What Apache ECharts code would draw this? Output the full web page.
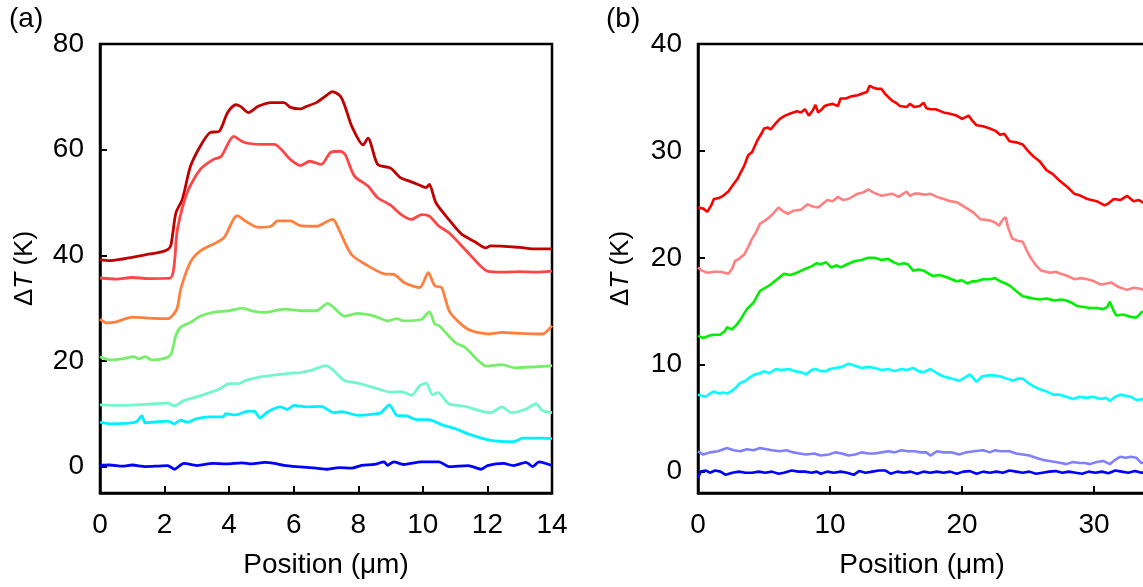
<!DOCTYPE html>
<html>
<head>
<meta charset="utf-8">
<script src="https://cdn.jsdelivr.net/npm/echarts@6/dist/echarts.min.js"></script>
<style>
html,body{margin:0;padding:0;background:#fff;}
#chart{width:1143px;height:587px;}
</style>
</head>
<body>
<div id="chart"></div>
<script>
// ---------- Data ----------
var xTicksA = [0, 2, 4, 6, 8, 10, 12, 14];
var yTicksA = [0, 20, 40, 60, 80];
var xTicksB = [0, 10, 20, 30];
var yTicksB = [0, 10, 20, 30, 40];

var colorsA = ['#C00000', '#FF4545', '#FF7F3F', '#76EE6A', '#72F7C8', '#00F0FF', '#0000FF'];
var colorsB = ['#FF0000', '#FF8080', '#00EE00', '#00FFFF', '#8080FF', '#0000FF'];

var a1 = [[0,39.2],[0.3,39],[0.7,39.3],[1.0,39.6],[1.4,40.1],[1.8,40.5],[2.1,41.1],[2.2,42],[2.35,48],[2.55,50.6],[2.8,56.8],[3.1,60.6],[3.4,63.2],[3.7,63.5],[3.95,67],[4.2,68.5],[4.35,68.2],[4.6,67],[4.9,68.2],[5.3,68.9],[5.7,68.9],[5.9,68],[6.2,67.7],[6.4,68.2],[6.7,68.9],[7.0,70.2],[7.2,71],[7.45,70.1],[7.6,68],[7.8,64.4],[8.15,60.9],[8.3,62.2],[8.6,57.2],[9.0,56.5],[9.3,54.7],[9.6,54],[9.85,53.4],[10.1,52.8],[10.2,53.4],[10.4,50],[10.8,46.8],[11.2,44],[11.6,42.6],[11.95,41.4],[12.1,41.8],[13,41.5],[13.5,41.2],[14,41.2]];
var a2 = [[0,35.7],[0.5,35.5],[1,35.8],[1.5,35.6],[2.18,35.7],[2.4,45],[2.7,51.9],[3.1,56.2],[3.5,58.1],[3.75,58.7],[4.14,62.5],[4.45,61.4],[5.0,61],[5.4,61],[5.9,58.1],[6.2,57],[6.5,57.8],[6.85,57.2],[7.15,59.5],[7.45,59.7],[7.6,59],[7.88,55],[8.3,53.1],[8.6,50.9],[9.0,49.5],[9.33,47.7],[9.65,46.8],[9.96,47.7],[10.2,47.4],[10.5,45.5],[10.8,44.3],[11.4,40.5],[12.0,37],[12.5,36.8],[13,36.9],[13.5,36.8],[14,37]];
var a3 = [[0,27.9],[0.2,27.2],[0.5,27.4],[1.0,28.3],[1.5,28.1],[2.1,28],[2.38,29.8],[2.5,33.6],[2.8,38.7],[3.1,40.8],[3.6,42.4],[3.85,43.4],[4.25,47.5],[4.5,46.5],[4.9,45.3],[5.3,45.5],[5.5,46.5],[5.9,46.5],[6.2,45.6],[6.7,45.5],[7.2,46.8],[7.3,46.2],[7.78,40.2],[8.3,38],[8.8,36.5],[9.1,36.4],[9.43,34.8],[9.9,33.9],[10.17,36.7],[10.37,34.2],[10.58,33.9],[10.84,29.2],[11.4,26],[12.07,25.1],[12.45,25.4],[13.0,25.2],[13.7,25.1],[14,26.7]];
var a4 = [[0,20.8],[0.31,20.2],[0.7,20.4],[1.04,20.8],[1.2,20.4],[1.4,20.8],[1.6,20.2],[2.0,20.5],[2.2,21.3],[2.35,24.8],[2.5,26.4],[2.8,27.3],[3.11,28.5],[3.5,29.2],[4.0,29.5],[4.4,30],[4.7,29.5],[5.08,29.2],[5.7,29.8],[6.22,29.5],[6.7,29.5],[7.05,30.9],[7.57,28.5],[8.0,29],[8.5,28.5],[8.9,27.6],[9.2,28],[9.4,27.6],[9.96,27.9],[10.2,29.3],[10.37,27],[10.5,26.7],[11.0,23.5],[11.3,22.6],[11.98,19],[12.45,19.3],[12.85,18.7],[13.5,18.9],[14,19.1]];
var a5 = [[0,11.7],[0.7,11.6],[1.7,11.9],[2.1,12],[2.3,11.5],[2.6,12.5],[3.0,13.2],[3.3,13.8],[3.7,14.7],[4.0,15.7],[4.3,15.7],[4.5,16.3],[4.9,16.9],[5.5,17.4],[5.9,17.7],[6.22,17.8],[6.53,18.2],[7.0,19.1],[7.57,16.3],[8.0,15.8],[8.6,14.7],[9.0,14.1],[9.33,14.2],[9.65,13.5],[9.9,15.3],[10.1,15.8],[10.3,13.6],[10.47,14],[10.8,11.9],[11.3,11.4],[12.1,10.2],[12.45,11.3],[12.75,10.2],[13.2,10.9],[13.5,11.9],[13.7,10.6],[14,10.2]];
var a6 = [[0,8.4],[0.31,8.1],[1.1,8.4],[1.3,9.6],[1.4,8.3],[2.1,8.6],[2.3,8.1],[2.5,8.8],[2.7,8.4],[3.0,9.1],[3.4,9.4],[3.8,9.4],[3.9,10],[4.2,9.8],[4.6,10.5],[4.8,10.4],[4.95,9.2],[5.2,10.4],[5.6,11.3],[5.8,10.8],[6.0,11.6],[6.4,11.3],[6.84,11.4],[7.26,10.2],[7.47,10.4],[8.0,9.7],[8.4,9.9],[8.7,10.2],[8.96,11.7],[9.2,9.7],[9.5,9.6],[9.8,8.9],[10.17,8.9],[10.6,7.9],[11.0,7.2],[11.4,6.2],[12.07,5.0],[12.8,4.7],[13.1,5.4],[13.7,5.4],[14,5.3]];
var a7 = [[0,0.25],[0.3,0.3],[0.7,0.1],[1.0,0.3],[1.4,0],[1.8,0.1],[2.1,0.2],[2.3,-0.5],[2.6,0.6],[3.0,0.2],[3.5,0.6],[3.9,0.5],[4.4,0.7],[4.7,0.5],[5.1,0.8],[5.4,0.6],[5.7,0.25],[6.1,0],[6.7,-0.3],[7.05,-0.5],[7.4,-0.2],[7.8,-0.3],[8.1,0.25],[8.5,0.4],[8.8,0.9],[8.9,0.25],[9.1,0.9],[9.4,0.4],[9.96,0.9],[10.5,0.9],[10.8,0],[11.4,0.2],[11.8,-0.5],[12.0,0.2],[12.5,0.6],[12.8,0.2],[13.2,0.8],[13.4,0],[13.6,0.9],[14,0.2]];

var b1 = [[0,24.7],[0.4,24.6],[0.7,24.3],[1.0,24.9],[1.2,25.5],[1.6,25.6],[1.9,25.8],[2.3,26.2],[2.7,26.9],[3.0,27.4],[3.2,27.9],[3.5,28.6],[3.8,29.6],[4.1,29.9],[4.5,31],[4.8,31.6],[5.0,32.1],[5.3,32.2],[5.5,32.0],[5.9,32.6],[6.2,33],[6.6,33.3],[7.0,33.5],[7.5,33.7],[7.8,33.6],[8.1,33.9],[8.4,33.3],[8.7,33.8],[8.9,34.3],[9.1,33.6],[9.3,33.8],[9.6,34.2],[9.8,34.3],[10.2,34.4],[10.6,34.2],[10.8,34.9],[11.2,34.9],[11.6,35.1],[12.1,35.2],[12.5,35.4],[12.8,35.5],[13.0,36.1],[13.3,35.9],[13.6,35.8],[13.9,35.8],[14.2,35.3],[14.7,34.7],[15.0,34.5],[15.3,34.2],[15.8,34.1],[16.05,34.4],[16.4,34.1],[16.8,34.2],[17.1,34.5],[17.3,34.0],[17.6,33.9],[18.0,33.9],[18.6,33.6],[19.0,33.5],[19.3,33.4],[19.6,33.3],[20.0,33.0],[20.5,33.3],[20.8,32.8],[21.1,32.4],[21.6,32.3],[22.1,32.1],[22.5,31.9],[22.9,31.5],[23.2,31.6],[23.6,30.9],[24.1,30.8],[24.6,30.6],[25.0,30.0],[25.4,29.5],[25.9,29.0],[26.4,28.2],[26.9,27.8],[27.4,27.2],[28.0,26.6],[28.5,26.0],[29.0,25.8],[29.5,25.5],[30.2,25.3],[30.8,24.9],[31.1,25.1],[31.5,25.5],[32.0,25.4],[32.5,25.8],[33.0,25.3],[33.4,25.4],[33.8,25.1]];
var b2 = [[0,19.1],[0.3,18.8],[0.7,18.6],[1.2,18.7],[1.7,18.7],[2.0,18.6],[2.3,18.5],[2.6,19.0],[2.8,19.7],[3.1,19.9],[3.5,20.3],[3.8,21.0],[4.1,21.8],[4.4,22.4],[4.7,23.2],[5.1,23.5],[5.5,23.9],[5.8,24.3],[6.1,24.7],[6.4,24.4],[6.8,24.1],[7.2,24.4],[7.8,24.5],[8.3,25.0],[8.7,24.8],[9.1,24.7],[9.5,25.1],[9.8,25.4],[10.2,25.3],[10.6,25.7],[11.0,25.4],[11.4,25.5],[11.8,25.8],[12.1,26],[12.5,26.1],[12.9,26.4],[13.3,26.1],[13.9,25.8],[14.3,25.9],[14.7,26],[15.2,25.7],[15.8,26.2],[16.05,25.8],[16.4,26.0],[16.8,26],[17.2,25.9],[17.6,26],[18.1,25.7],[18.6,25.5],[19.1,25.3],[19.6,25.2],[20.0,24.9],[20.4,24.6],[20.9,24.2],[21.4,23.6],[22.1,23.5],[22.5,23.3],[22.8,23],[23.1,23.6],[23.3,23.8],[23.5,22.8],[23.8,21.8],[24.2,21.6],[24.6,21.5],[24.9,20.7],[25.2,20],[25.6,19.3],[26.0,18.8],[26.4,18.7],[26.7,18.6],[27.1,18.7],[27.5,18.5],[28.0,18.3],[28.5,18],[29.0,18.1],[29.5,18],[30.0,17.8],[30.5,17.5],[31.0,17.6],[31.3,17.7],[31.8,17.3],[32.5,17.0],[33.0,17.2],[33.5,17.1],[33.8,17.0]];
var b3 = [[0,12.7],[0.4,12.5],[0.8,12.7],[1.2,12.8],[1.67,12.8],[2.0,13.1],[2.2,13.5],[2.55,13.3],[2.9,13.7],[3.2,14.2],[3.5,14.8],[3.7,15.2],[4.2,15.8],[4.7,16.9],[5.1,17.2],[5.5,17.5],[6.0,18.0],[6.5,18.5],[7.0,18.4],[7.5,18.6],[8.0,18.9],[8.6,19.2],[9.0,19.5],[9.3,19.4],[9.7,19.6],[10.1,19.1],[10.5,19.3],[10.8,19.1],[11.3,19.4],[11.9,19.7],[12.4,19.8],[12.9,20.0],[13.4,20.0],[13.9,19.8],[14.4,19.9],[14.8,19.6],[15.2,19.4],[15.6,19.5],[15.9,19.4],[16.3,18.8],[16.7,18.9],[17.1,18.8],[17.5,18.5],[17.8,18.3],[18.3,18.4],[18.8,18.2],[19.2,18.0],[19.6,17.8],[20.0,17.9],[20.4,17.6],[20.8,17.8],[21.1,17.8],[21.6,18.0],[22.1,18.0],[22.5,18.1],[22.9,17.8],[23.3,17.6],[23.6,17.4],[24.1,16.9],[24.6,16.4],[25.0,16.3],[25.4,16.2],[25.9,16.1],[26.4,16.2],[27.0,16.0],[27.5,16.1],[27.9,16.0],[28.3,15.8],[28.7,15.5],[29.2,15.4],[29.7,15.3],[30.2,15.3],[30.7,15.2],[31.0,15.4],[31.2,15.9],[31.5,15.0],[31.7,14.6],[32.2,14.7],[32.7,14.5],[33.2,14.4],[33.6,14.9],[33.9,15.0]];
var b4 = [[0,7.2],[0.3,7.1],[0.6,7.0],[0.9,7.3],[1.2,7.5],[1.6,7.3],[1.9,7.4],[2.2,7.3],[2.5,7.5],[2.9,7.9],[3.2,8.3],[3.6,8.5],[3.9,8.8],[4.3,9.1],[4.7,9.2],[5.0,9.4],[5.4,9.2],[5.9,9.6],[6.3,9.5],[6.9,9.6],[7.3,9.4],[7.8,9.3],[8.2,9.1],[8.6,9.5],[8.9,9.6],[9.3,9.4],[9.7,9.4],[10.0,9.6],[10.4,9.7],[10.9,9.8],[11.4,10.1],[11.9,9.9],[12.4,9.7],[12.9,9.8],[13.4,9.7],[13.9,9.5],[14.4,9.6],[14.9,9.4],[15.4,9.6],[15.8,9.5],[16.3,9.7],[16.7,9.4],[17.1,9.3],[17.6,9.6],[18.1,9.2],[18.6,8.9],[19.2,8.7],[19.8,8.5],[20.2,8.8],[20.6,9.1],[21.1,8.4],[21.5,8.9],[21.9,9.0],[22.4,9.0],[22.9,8.9],[23.4,8.7],[23.9,8.5],[24.2,8.7],[24.6,8.7],[25.0,8.3],[25.4,8.0],[25.9,7.7],[26.4,7.5],[26.9,7.2],[27.4,7.2],[27.9,7.0],[28.4,6.8],[28.9,7.0],[29.4,6.9],[29.9,7.0],[30.5,6.8],[30.9,6.9],[31.2,6.6],[31.6,7.0],[32.0,7.2],[32.4,7.1],[32.8,7.0],[33.2,6.7],[33.8,6.8]];
var b5 = [[0,1.9],[0.4,1.6],[0.9,1.8],[1.5,1.9],[2.2,2.2],[2.7,2.0],[3.2,1.9],[3.7,2.1],[4.2,2.0],[4.7,2.2],[5.2,2.1],[5.6,2.0],[6.2,1.9],[6.7,2.0],[7.2,1.8],[7.7,1.7],[8.2,1.6],[8.8,1.7],[9.3,1.5],[9.9,1.6],[10.4,1.8],[10.9,1.7],[11.4,1.5],[11.9,1.6],[12.4,1.8],[12.9,1.7],[13.4,1.7],[13.9,1.8],[14.4,1.9],[14.9,1.8],[15.4,2.0],[15.9,1.9],[16.4,1.9],[16.9,1.8],[17.3,1.8],[17.6,1.5],[18.1,1.9],[18.6,1.8],[19.2,1.8],[19.8,1.6],[20.3,1.8],[20.9,1.9],[21.6,2.0],[22.1,1.8],[22.5,2.0],[22.9,1.9],[23.6,1.9],[24.1,1.7],[24.6,1.6],[25.1,1.5],[25.6,1.3],[26.1,1.1],[26.6,1.0],[27.1,0.9],[27.5,0.8],[27.9,0.7],[28.4,0.9],[28.9,0.8],[29.3,0.8],[29.7,0.7],[30.2,0.9],[30.7,1.0],[31.2,0.7],[31.6,1.1],[32.0,1.4],[32.4,1.3],[32.8,1.4],[33.2,1.3],[33.6,0.8],[33.9,0.9]];
var b6 = [[0,-0.6],[0.2,0],[0.6,0.1],[0.9,-0.1],[1.3,0.1],[1.7,0],[2.1,-0.3],[2.6,-0.1],[3.1,0],[3.6,-0.1],[4.1,-0.1],[4.6,0],[5.1,-0.1],[5.6,0],[6.1,-0.2],[6.5,-0.1],[7.1,0.1],[7.6,0],[8.1,0],[8.6,-0.1],[9.0,0],[9.3,-0.2],[9.8,0],[10.3,-0.1],[10.8,0],[11.3,-0.1],[11.8,-0.3],[12.2,0.05],[12.7,-0.1],[13.2,0],[13.7,0.1],[14.2,0.1],[14.6,-0.2],[15.1,0],[15.6,-0.1],[16.1,0],[16.6,-0.2],[17.1,0],[17.6,-0.1],[18.1,0],[18.6,-0.1],[19.1,0],[19.6,-0.2],[20.1,0],[20.6,0.05],[21.1,-0.2],[21.6,0],[22.1,-0.1],[22.6,0],[23.1,-0.1],[23.6,0.1],[24.1,0],[24.6,-0.1],[25.1,0],[25.6,-0.2],[26.1,-0.1],[26.6,0],[27.1,0.05],[27.6,-0.1],[28.1,0],[28.6,-0.1],[29.1,-0.2],[29.6,0],[30.1,-0.1],[30.6,0],[31.1,-0.15],[31.6,0.1],[32.1,0],[32.6,-0.1],[33.1,0.05],[33.6,-0.1],[34,0]];

var seriesA = [a1, a2, a3, a4, a5, a6, a7];
var seriesB = [b1, b2, b3, b4, b5, b6];

// ---------- Chart ----------
var FONT = '"Liberation Sans", Arial, sans-serif';
var chart = echarts.init(document.getElementById('chart'), null, {renderer: 'canvas'});

function xAxisCfg(idx, max, interval, ticks, namePad) {
  return {
    type: 'value', gridIndex: idx, min: 0, max: max, interval: interval,
    name: 'Position (\u03bcm)', nameLocation: 'middle', nameGap: 58,
    nameTextStyle: {fontFamily: FONT, fontSize: 28, color: '#000', padding: namePad},
    axisLine: {show: true, onZero: false, lineStyle: {color: '#000', width: 2.5}},
    axisTick: {show: true, inside: true, length: 7, lineStyle: {color: '#000', width: 2}, customValues: ticks},
    axisLabel: {fontFamily: FONT, fontSize: 28, color: '#000', margin: 18, customValues: ticks},
    splitLine: {show: false}
  };
}
function yAxisCfg(idx, min, max, ticks, gap) {
  return {
    type: 'value', gridIndex: idx, min: min, max: max,
    name: '{n|\u0394}{i|T}{n| (K)}', nameLocation: 'middle', nameGap: gap, nameRotate: 90,
    nameTextStyle: {
      fontFamily: FONT, fontSize: 26, color: '#000',
      rich: {
        n: {fontFamily: FONT, fontSize: 26, color: '#000'},
        i: {fontFamily: FONT, fontSize: 26, color: '#000', fontStyle: 'italic'}
      }
    },
    axisLine: {show: true, onZero: false, lineStyle: {color: '#000', width: 2.5}},
    axisTick: {show: true, inside: true, length: 7, lineStyle: {color: '#000', width: 2}, customValues: ticks},
    axisLabel: {fontFamily: FONT, fontSize: 28, color: '#000', margin: 16, customValues: ticks},
    splitLine: {show: false}
  };
}

var series = [];
seriesA.forEach(function (d, i) {
  series.push({type: 'line', xAxisIndex: 0, yAxisIndex: 0, data: d, showSymbol: false,
    smooth: 0.25, lineStyle: {color: colorsA[i], width: 2.8}, itemStyle: {color: colorsA[i]}, z: 2});
});
seriesB.forEach(function (d, i) {
  series.push({type: 'line', xAxisIndex: 1, yAxisIndex: 1, data: d, showSymbol: false,
    smooth: false, lineStyle: {color: colorsB[i], width: 2.6}, itemStyle: {color: colorsB[i]}, z: 2});
});

chart.setOption({
  animation: false,
  backgroundColor: '#fff',
  grid: [
    {left: 100, top: 44, width: 452, height: 449, show: true, borderColor: '#000', borderWidth: 2.5, backgroundColor: 'transparent', outerBoundsMode: 'none', containLabel: false},
    {left: 698, top: 44, width: 462, height: 449, show: true, borderColor: '#000', borderWidth: 2.5, backgroundColor: 'transparent', outerBoundsMode: 'none', containLabel: false}
  ],
  xAxis: [xAxisCfg(0, 14, 2, xTicksA, [0, 0, 0, 0]), xAxisCfg(1, 35, 10, xTicksB, [0, 14, 0, 0])],
  yAxis: [yAxisCfg(0, -5, 80, yTicksA, 62), yAxisCfg(1, -2, 40, yTicksB, 64)],
  graphic: [
    {type: 'text', left: 9, top: 5, style: {text: '(a)', fontFamily: FONT, fontSize: 28, fill: '#000'}},
    {type: 'text', left: 606, top: 5, style: {text: '(b)', fontFamily: FONT, fontSize: 28, fill: '#000'}}
  ],
  series: series
});
</script>
</body>
</html>
